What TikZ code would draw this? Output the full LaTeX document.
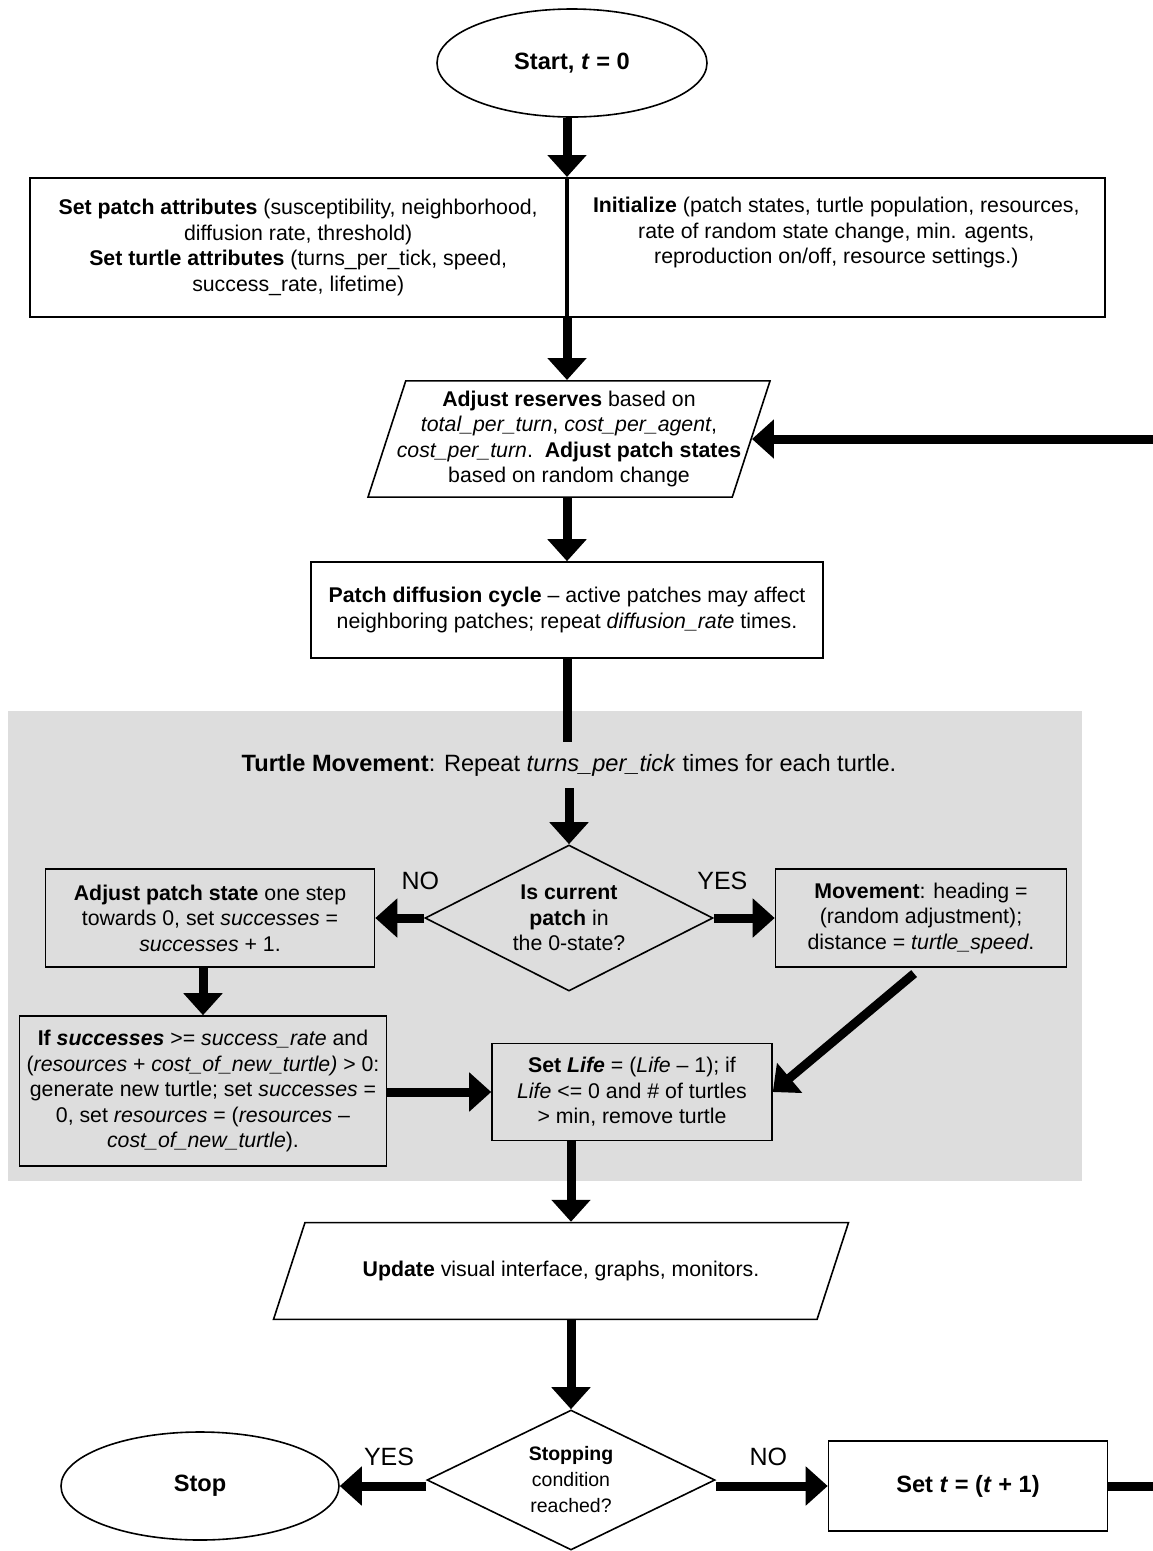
\documentclass[tikz,border=0pt]{standalone}
\usepackage{fontspec}
\setmainfont{Liberation Sans}
\usepackage{tikz}
\usetikzlibrary{shapes.geometric}
\usetikzlibrary{arrows.meta}
\newcommand{\boxfont}{\fontsize{21.3pt}{25.5pt}\selectfont}
\newcommand{\askfont}{\fontsize{19.5pt}{26pt}\selectfont}
\newcommand{\bigfont}{\fontsize{23.6pt}{28pt}\selectfont}
\newcommand{\answerfont}{\fontsize{25pt}{30pt}\selectfont}
\definecolor{panelgray}{RGB}{221,221,221}
\tikzset{
  box/.style={draw, line width=1.6pt, rectangle, inner sep=0pt, align=center, font=\boxfont},
  txt/.style={inner sep=0pt, align=center, font=\boxfont},
  term/.style={draw, line width=1.6pt, ellipse, inner sep=0pt, font=\bigfont},
  decision/.style={draw, line width=1.6pt, diamond, aspect=2, inner sep=0pt,
    minimum width=288pt, minimum height=146pt, align=center, font=\boxfont},
  io/.style={draw, line width=1.6pt, trapezium, trapezium left angle=72,
    trapezium right angle=108, trapezium stretches body=true, inner xsep=0pt,
    align=center, font=\boxfont},
  flow/.style={line width=9pt, -{Triangle[length=22pt,width=38pt]}},
  link/.style={line width=9pt},
  answer/.style={inner sep=0pt, font=\answerfont}
}
\begin{document}
\begin{tikzpicture}[x=1pt, y=-1pt]
\useasboundingbox (0,0) rectangle (1153,1551);
% grey panel behind the turtle loop
\fill[panelgray] (8,711) rectangle (1082,1181);

\node[term, minimum width=270pt, minimum height=108pt] (start) at (572,63) {\textbf{Start, \textit{t} = 0}};
\node[box, minimum width=536pt, minimum height=139pt, anchor=north east] (patchattr) at (567,177)
  {\textbf{Set patch attributes} (susceptibility, neighborhood,\\ diffusion rate, threshold)\\
   \textbf{Set turtle attributes} (turns\_per\_tick, speed,\\ success\_rate, lifetime)};
\node[box, minimum width=537pt, minimum height=139pt, anchor=north west] (init) at (567,177) {};
\node[txt, anchor=north] (inittxt) at ([yshift=-20pt]init.north)
  {\textbf{Initialize} (patch states, turtle population, resources,\\ rate of random state change, min. agents,\\
   reproduction on/off, resource settings.)};
\node[io, inner xsep=-9pt, inner ysep=10pt] (reserves) at (569,439)
  {\textbf{Adjust reserves} based on\\ \textit{total\_per\_turn}, \textit{cost\_per\_agent},\\
   \textit{cost\_per\_turn}.\ \ \textbf{Adjust patch states}\\ based on random change};
\node[box, minimum width=512pt, minimum height=96pt] (diffusion) at (567,610)
  {\textbf{Patch diffusion cycle} -- active patches may affect\\ neighboring patches; repeat \textit{diffusion\_rate} times.};
\node[txt, inner ysep=12pt, font=\bigfont] (turtlemove) at (569,765)
  {\textbf{Turtle Movement}: Repeat \textit{turns\_per\_tick} times for each turtle.};
\node[decision] (patchcheck) at (569,918) {\textbf{Is current}\\ \textbf{patch} in\\ the 0-state?};
\node[box, minimum width=329pt, minimum height=98pt] (adjstate) at (210,918)
  {\textbf{Adjust patch state} one step\\ towards 0, set \textit{successes} =\\ \textit{successes} + 1.};
\node[box, minimum width=291pt, minimum height=98pt] (movement) at (921,918)
  {\textbf{Movement}: heading =\\ (random adjustment);\\ distance = \textit{turtle\_speed}.};
\node[box, minimum width=367pt, minimum height=150pt] (reproduce) at (203,1091)
  {\textbf{If \textit{successes}} >= \textit{success\_rate} and\\ (\textit{resources} + \textit{cost\_of\_new\_turtle)} > 0:\\
   generate new turtle; set \textit{successes} =\\ 0, set \textit{resources} = (\textit{resources} --\\ \textit{cost\_of\_new\_turtle}).};
\node[box, minimum width=280pt, minimum height=97pt] (setlife) at (632,1092)
  {\textbf{Set \textit{Life}} = (\textit{Life} -- 1); if\\ \textit{Life} <= 0 and \# of turtles\\ > min, remove turtle};
\node[io, minimum width=575pt, inner ysep=38.5pt] (update) at (561,1271)
  {\textbf{Update} visual interface, graphs, monitors.};
\node[decision, minimum height=140pt, font=\askfont] (stopcheck) at (571,1480)
  {\textbf{Stopping}\\ condition\\ reached?};
\node[term, minimum width=278pt, minimum height=108pt] (stop) at (200,1486) {\textbf{Stop}};
\node[box, minimum width=279pt, minimum height=90pt, font=\bigfont] (nexttick) at (968,1486)
  {\textbf{Set \textit{t} = (\textit{t} + 1)}};

\draw[flow] (start.south -| patchattr.north east) -- (patchattr.north east);
\draw[flow] (patchattr.south east) -- (patchattr.south east |- reserves.north);
\draw[flow] (reserves.south -| diffusion.north) -- (diffusion.north);
\draw[link] (diffusion.south) -- (diffusion.south |- turtlemove.north);
\draw[flow] (turtlemove.south -| patchcheck.north) -- (patchcheck.north);
\draw[flow] (patchcheck) -- node[answer, pos=0.08, above=24pt] {NO} (adjstate);
\draw[flow] (patchcheck) -- node[answer, pos=0.14, above=24pt] {YES} (movement);
\draw[flow] (reproduce.north |- adjstate.south) -- (reproduce.north);
\draw[flow] (reproduce.east |- setlife.west) -- (setlife.west);
\draw[flow, shorten <=9pt] (movement.south) -- (setlife.east);
\draw[flow] (setlife.south -| stopcheck.north) -- (update.north -| stopcheck.north);
\draw[flow] (update.south -| stopcheck.north) -- (stopcheck.north);
\draw[flow] (stopcheck.west |- stop.east) -- node[answer, pos=0.43, above=16pt] {YES} (stop.east);
\draw[flow] (stopcheck.east |- nexttick.west) -- node[answer, pos=0.47, above=16pt] {NO} (nexttick.west);
\draw[flow] (nexttick.east) -- ++(60,0) |- (reserves.east);
\end{tikzpicture}
\end{document}
